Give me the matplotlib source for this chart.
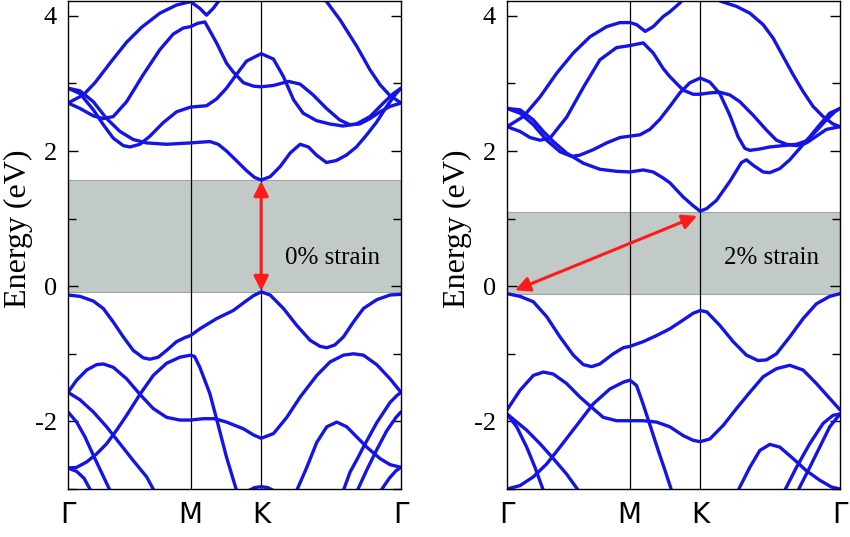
import matplotlib.pyplot as plt
from matplotlib.ticker import MultipleLocator

# k path (fraction of G-M-K-G path) and high-symmetry labels
k_ticks = [0.0, 0.368, 0.580, 1.0]
k_labels = ['\u0393', 'M', 'K', '\u0393']

# ---------------- 0% strain bands ----------------
l_s = [[0, .046, .081, .126, .176, .221, .276, .326, .368, .396, .416, .436, .456, .47],
       [2.71, 2.83, 3.01, 3.30, 3.61, 3.83, 4.04, 4.16, 4.21, 4.11, 4.01, 4.11, 4.24, 4.32]]
l_t = [[.76, .772, .817, .867, .907, .937, .967, 1.0],
       [4.30, 4.24, 3.94, 3.55, 3.20, 2.98, 2.82, 2.71]]
l_r = [[0, .036, .076, .106, .136, .176, .226, .276, .316, .346, .368, .39, .411, .446, .476,
        .496, .527, .557, .58, .617, .662, .697, .736, .776, .816, .846, .876, .907, .937, .967, 1.0],
       [2.71, 2.63, 2.52, 2.48, 2.51, 2.73, 3.13, 3.50, 3.73, 3.82, 3.84, 3.89, 3.91, 3.60, 3.30,
        3.17, 3.01, 2.96, 2.95, 2.97, 3.03, 2.99, 2.83, 2.63, 2.46, 2.39, 2.40, 2.48, 2.58, 2.66, 2.71]]
l_q = [[0, .036, .076, .106, .136, .166, .186, .216, .246, .286, .326, .356, .368, .416, .446,
        .476, .501, .536, .58, .617, .647, .677, .706, .746, .786, .826, .866, .907, .947, .977, 1.0],
       [2.93, 2.85, 2.61, 2.39, 2.19, 2.08, 2.06, 2.10, 2.22, 2.42, 2.58, 2.63, 2.65, 2.67, 2.77,
        2.93, 3.10, 3.33, 3.44, 3.36, 3.10, 2.76, 2.56, 2.45, 2.40, 2.37, 2.40, 2.51, 2.71, 2.85, 2.93]]
l_p = [[0, .036, .076, .116, .156, .196, .236, .296, .368, .396, .426, .451, .476, .501, .536, .56,
        .58, .607, .637, .667, .697, .722, .746, .776, .806, .836, .866, .897, .927, .957, .982, 1.0],
       [2.93, 2.89, 2.73, 2.48, 2.29, 2.17, 2.12, 2.10, 2.12, 2.13, 2.14, 2.10, 2.00, 1.88, 1.71, 1.61,
        1.57, 1.62, 1.77, 1.97, 2.10, 2.06, 1.94, 1.83, 1.86, 1.94, 2.06, 2.24, 2.43, 2.66, 2.83, 2.93]]
l_v1 = [[0, .036, .076, .106, .136, .166, .196, .226, .246, .271, .296, .326, .351, .368, .396, .446,
         .496, .537, .557, .58, .607, .647, .687, .727, .757, .777, .801, .827, .857, .887, .927, .967, 1.0],
        [-.13, -.15, -.22, -.33, -.53, -.75, -.95, -1.06, -1.08, -1.05, -.95, -.82, -.76, -.73, -.63, -.48,
         -.36, -.21, -.14, -.084, -.13, -.33, -.58, -.80, -.89, -.91, -.87, -.75, -.53, -.33, -.20, -.13, -.12]]
l_v2 = [[0, .026, .056, .086, .106, .136, .176, .216, .256, .296, .336, .368, .406, .441, .476, .527,
         .557, .58, .617, .657, .697, .747, .787, .827, .857, .887, .927, .967, 1.0],
        [-1.57, -1.39, -1.24, -1.16, -1.15, -1.20, -1.37, -1.60, -1.81, -1.94, -1.98, -1.98, -1.96, -1.96,
         -2.01, -2.11, -2.20, -2.25, -2.18, -1.94, -1.64, -1.32, -1.12, -1.02, -1.00, -1.02, -1.16, -1.37, -1.57]]
l_v3 = [[0, .036, .076, .116, .156, .196, .236, .258],
        [-1.57, -1.68, -1.86, -2.08, -2.33, -2.58, -2.82, -3.02]]
l_v4 = [[0, .026, .056, .086, .116, .146, .176, .216, .256, .296, .336, .368, .38, .396, .426, .446, .476, .506],
        [-2.69, -2.68, -2.60, -2.48, -2.33, -2.13, -1.91, -1.60, -1.32, -1.14, -1.05, -1.02, -1.04,
         -1.20, -1.59, -1.96, -2.53, -3.02]]
l_v5 = [[0, .026, .051, .076, .101, .126],
        [-1.86, -2.01, -2.23, -2.50, -2.76, -3.02]]
l_v6 = [[0, .026, .048, .068],
        [-2.69, -2.74, -2.84, -3.02]]
l_v7 = [[.687, .717, .747, .777, .807, .837, .867, .897, .937, .967, 1.0],
        [-3.02, -2.68, -2.31, -2.08, -2.01, -2.08, -2.23, -2.38, -2.55, -2.64, -2.68]]
l_v8 = [[.827, .847, .867, .887, .907, .927, .947, .967, .987, 1.0],
        [-3.02, -2.75, -2.57, -2.38, -2.20, -2.02, -1.87, -1.72, -1.62, -1.57]]
l_v9 = [[.869, .897, .927, .957, .985, 1.0],
        [-3.02, -2.72, -2.42, -2.14, -1.94, -1.86]]
l_v10 = [[.94, .965, .985, 1.0],
         [-3.02, -2.84, -2.73, -2.68]]
l_v11 = [[.54, .56, .58, .60, .62],
         [-3.03, -2.98, -2.965, -2.98, -3.03]]

# ---------------- 2% strain bands ----------------
r_s = [[0, .049, .099, .149, .199, .249, .299, .339, .369, .389, .415, .439, .469, .489, .519, .535],
       [2.36, 2.51, 2.80, 3.15, 3.45, 3.69, 3.84, 3.90, 3.90, 3.87, 3.77, 3.84, 3.99, 4.06, 4.19, 4.30]]
r_t = [[.63, .639, .689, .729, .769, .799, .829, .859, .889, .919, .949, .979, 1.0],
       [4.30, 4.22, 4.14, 4.04, 3.87, 3.67, 3.40, 3.13, 2.88, 2.66, 2.51, 2.40, 2.36]]
r_r = [[0, .039, .069, .099, .129, .179, .229, .279, .329, .369, .409, .439, .469, .489, .529, .559,
        .58, .609, .639, .669, .699, .739, .779, .809, .839, .869, .899, .929, .959, 1.0],
       [2.36, 2.29, 2.20, 2.16, 2.19, 2.50, 2.94, 3.35, 3.53, 3.56, 3.60, 3.45, 3.22, 3.10, 2.90, 2.84,
        2.84, 2.86, 2.87, 2.83, 2.73, 2.53, 2.31, 2.16, 2.10, 2.08, 2.12, 2.22, 2.32, 2.36]]
r_q = [[0, .039, .079, .119, .159, .194, .219, .259, .299, .339, .369, .399, .429, .459, .489, .519,
        .549, .58, .609, .639, .669, .694, .714, .729, .759, .789, .829, .869, .899, .929, .959, .984, 1.0],
       [2.63, 2.56, 2.39, 2.16, 1.99, 1.92, 1.94, 2.02, 2.12, 2.20, 2.22, 2.24, 2.32, 2.47, 2.66, 2.86,
        3.01, 3.08, 3.02, 2.85, 2.53, 2.21, 2.04, 2.01, 2.03, 2.06, 2.08, 2.10, 2.15, 2.30, 2.46, 2.58, 2.63]]
r_p = [[0, .039, .079, .109, .139, .179, .229, .279, .329, .369, .409, .439, .469, .489, .529, .559,
        .58, .600, .629, .669, .704, .719, .739, .769, .789, .819, .849, .879, .909, .939, .969, 1.0],
       [2.63, 2.61, 2.46, 2.29, 2.14, 1.97, 1.82, 1.73, 1.70, 1.69, 1.72, 1.69, 1.60, 1.53, 1.32, 1.19,
        1.11, 1.15, 1.27, 1.55, 1.83, 1.87, 1.79, 1.69, 1.68, 1.74, 1.87, 2.04, 2.21, 2.39, 2.56, 2.63]]
r_v1 = [[0, .039, .079, .119, .159, .199, .229, .254, .279, .319, .349, .369, .409, .449, .489, .529,
         .559, .58, .6, .639, .679, .719, .754, .779, .809, .849, .889, .929, .969, 1.0],
        [-.11, -.15, -.23, -.45, -.75, -1.02, -1.16, -1.19, -1.15, -1.00, -.91, -.89, -.82, -.73, -.63, -.50,
         -.40, -.36, -.38, -.58, -.82, -1.02, -1.10, -1.09, -1.00, -.75, -.48, -.26, -.15, -.11]]
r_v2 = [[0, .039, .079, .109, .139, .179, .219, .249, .289, .329, .369, .409, .449, .489, .529, .559,
         .58, .609, .649, .689, .729, .769, .809, .849, .889, .929, .969, 1.0],
        [-1.83, -1.54, -1.32, -1.27, -1.30, -1.44, -1.64, -1.77, -1.94, -1.99, -1.99, -1.99, -2.01, -2.08,
         -2.21, -2.28, -2.30, -2.26, -2.06, -1.81, -1.57, -1.34, -1.22, -1.17, -1.24, -1.44, -1.66, -1.83]]
r_v3 = [[0, .059, .099, .139, .179, .214],
        [-1.89, -2.13, -2.33, -2.55, -2.78, -3.02]]
r_v4 = [[0, .039, .079, .119, .159, .209, .259, .309, .349, .369, .389, .409, .429, .454, .474, .494],
        [-3.0, -2.95, -2.82, -2.63, -2.38, -2.06, -1.74, -1.52, -1.42, -1.39, -1.47, -1.75, -2.05,
         -2.43, -2.72, -3.02]]
r_v5 = [[0, .029, .059, .084, .109],
        [-1.89, -2.08, -2.38, -2.68, -3.02]]
r_v7 = [[.694, .729, .759, .789, .819, .859, .899, .939, .974, 1.0],
        [-3.02, -2.68, -2.43, -2.34, -2.38, -2.55, -2.73, -2.87, -2.97, -3.0]]
r_v8 = [[.834, .869, .909, .949, .979, 1.0],
        [-3.02, -2.68, -2.33, -2.03, -1.91, -1.89]]
r_v9 = [[.874, .909, .939, .969, 1.0],
        [-3.02, -2.68, -2.38, -2.08, -1.89]]

left_bands = [l_s, l_t, l_r, l_q, l_p, l_v1, l_v2, l_v3, l_v4, l_v5, l_v6, l_v7, l_v8, l_v9, l_v10, l_v11]
right_bands = [r_s, r_t, r_r, r_q, r_p, r_v1, r_v2, r_v3, r_v4, r_v5, r_v7, r_v8, r_v9]

# gap edges (VBM, CBM) and arrow ends (k, E)
left_gap = (-0.084, 1.57)
right_gap = (-0.11, 1.10)
left_arrow = ((0.58, -0.07), (0.58, 1.555))
right_arrow = ((0.024, -0.06), (0.571, 1.04))
strain_labels = ['0% strain', '2% strain']

plt.rcParams['font.family'] = 'serif'
plt.rcParams['font.serif'] = ['Liberation Serif', 'DejaVu Serif']
plt.rcParams['axes.unicode_minus'] = False

band_color = '#1414e6'
gap_color = '#c2cac7'

fig = plt.figure(figsize=(8.5, 5.37), dpi=100, facecolor='white')
ax_l = fig.add_axes([0.08, 0.0894, 0.3918, 0.9088])
ax_r = fig.add_axes([0.5965, 0.0894, 0.3918, 0.9088])


def draw_panel(ax, bands, gap, arrow, label):
    ax.axhspan(gap[0], gap[1], facecolor=gap_color, edgecolor='#9ea5a2', lw=0.8, zorder=0)
    for x in k_ticks[1:3]:
        ax.axvline(x, color='black', lw=0.9, zorder=1)
    for k, e in bands:
        ax.plot(k, e, color=band_color, lw=2.4, solid_capstyle='round',
                solid_joinstyle='round', zorder=2)
    ax.annotate('', xy=arrow[1], xytext=arrow[0],
                arrowprops=dict(arrowstyle='<|-|>', color='#ff1a1a', lw=2.2,
                                mutation_scale=22, shrinkA=0, shrinkB=0), zorder=3)
    ax.text(0.795, 0.41, label, fontsize=18, ha='center', va='center', zorder=4)

    ax.set_xlim(0, 1)
    ax.set_ylim(-3.0, 4.22)
    ax.set_xticks(k_ticks)
    ax.set_xticklabels(k_labels, fontfamily='DejaVu Sans', fontsize=20)
    ax.tick_params(axis='x', length=0, pad=9)
    ax.yaxis.set_major_locator(MultipleLocator(2))
    ax.yaxis.set_minor_locator(MultipleLocator(1))
    ax.tick_params(axis='y', which='both', direction='in', left=True, right=True,
                   width=1.0, labelsize=19, pad=8)
    ax.tick_params(axis='y', which='major', length=7)
    ax.tick_params(axis='y', which='minor', length=6)
    for sp in ax.spines.values():
        sp.set_linewidth(1.0)
    ax.set_ylabel('Energy (eV)', fontsize=23)
    ax.yaxis.set_label_coords(-0.105, 0.534)


draw_panel(ax_l, left_bands, left_gap, left_arrow, strain_labels[0])
draw_panel(ax_r, right_bands, right_gap, right_arrow, strain_labels[1])

fig.savefig('out.png', dpi=100, facecolor='white')
